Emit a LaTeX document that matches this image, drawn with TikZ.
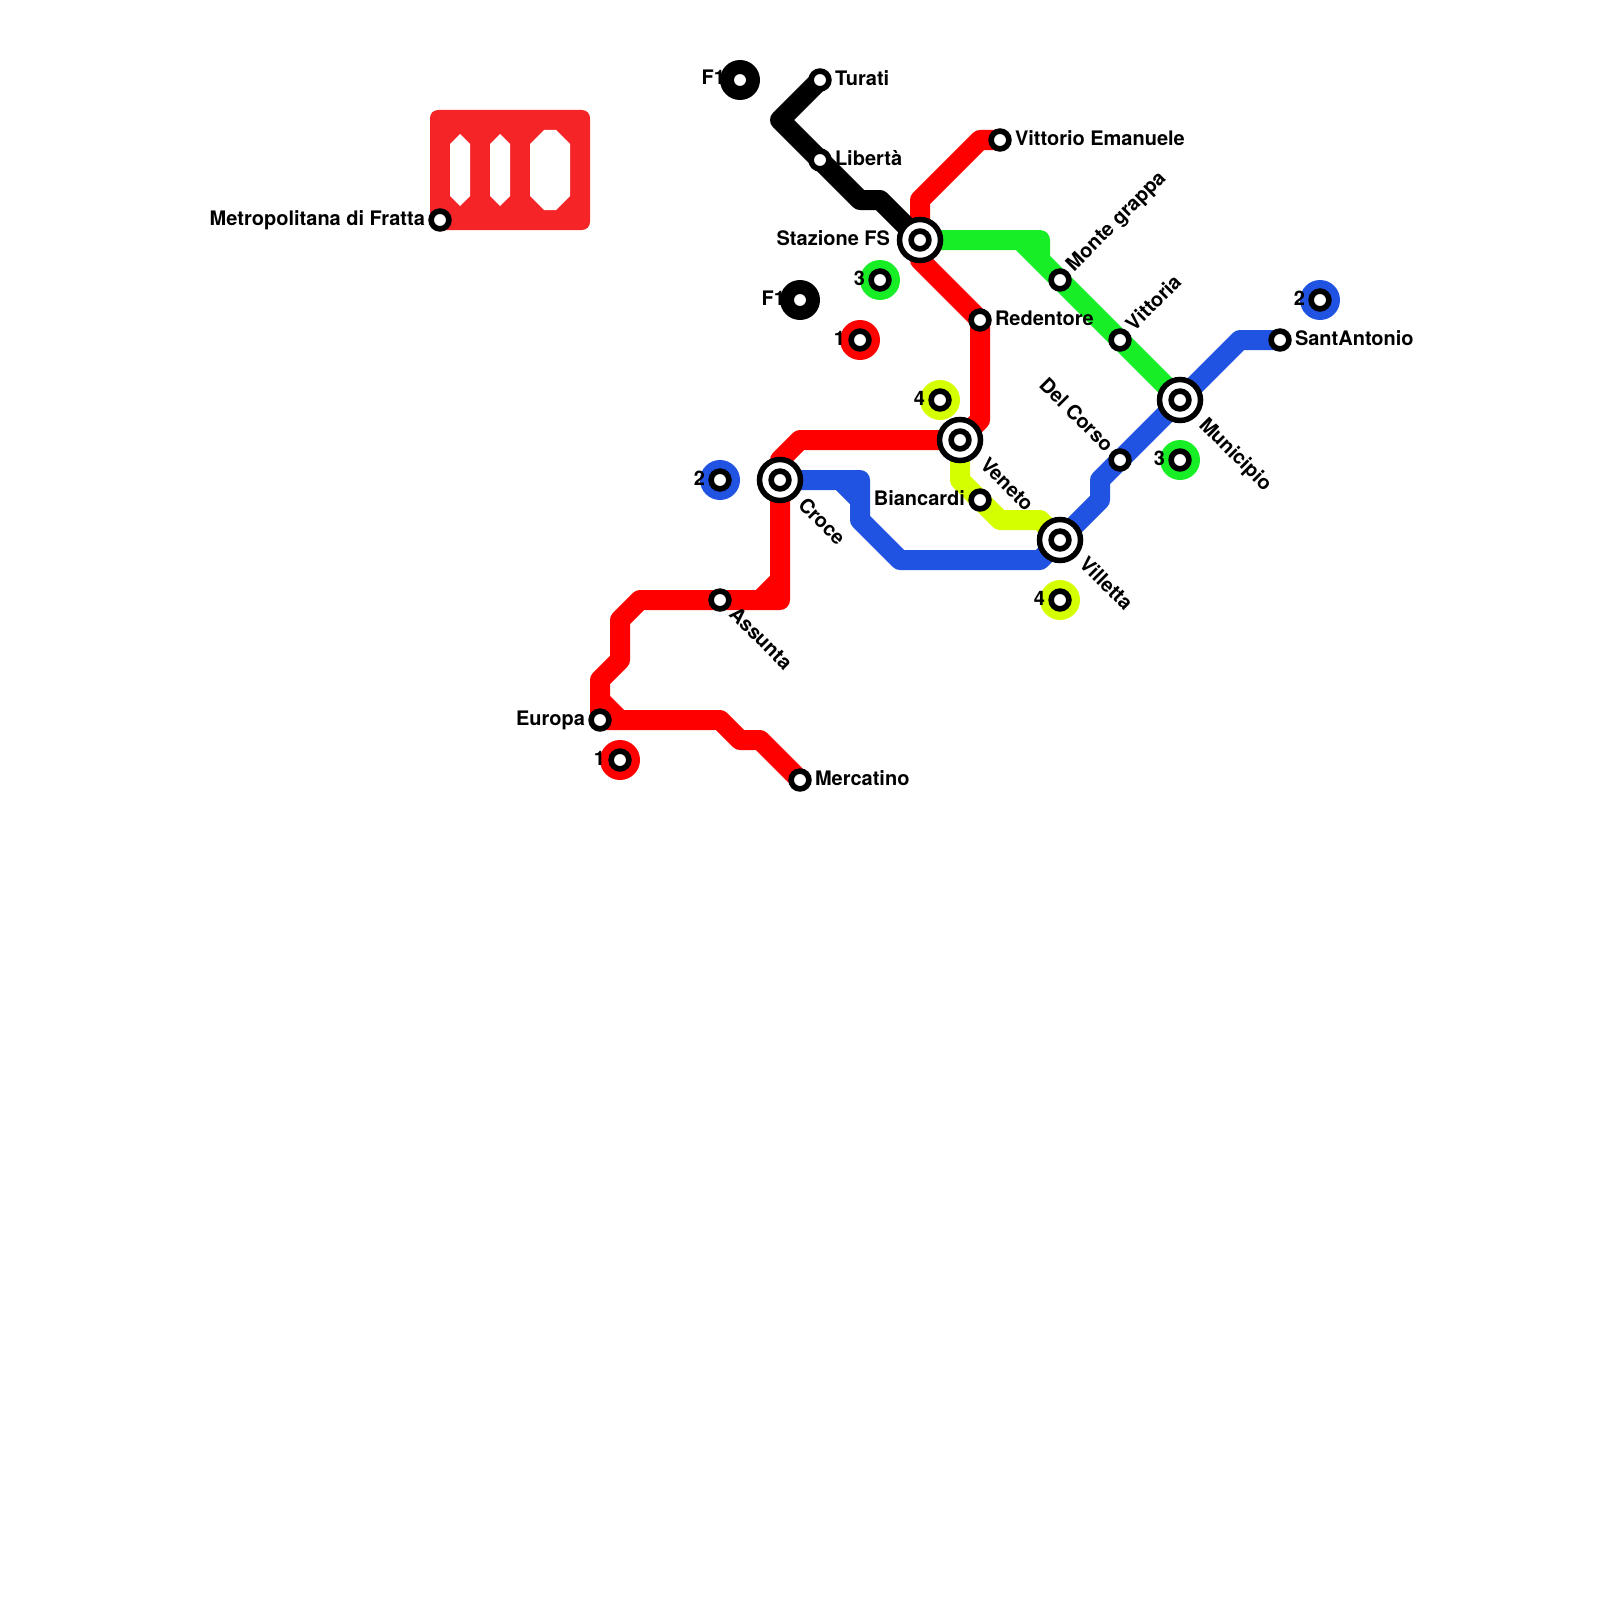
\documentclass[tikz,border=0pt]{standalone}
\usepackage{fontspec}
\setmainfont{TeX Gyre Heros}
\usetikzlibrary{calc,backgrounds}
\definecolor{LineRed}{HTML}{FF0000}
\definecolor{LineBlue}{HTML}{2153E3}
\definecolor{LineGreen}{HTML}{17EE26}
\definecolor{LineYellow}{HTML}{D4FF00}
\definecolor{IconRed}{HTML}{F52527}
\tikzset{
  metroline/.style={line width=10pt, line join=round, line cap=round},
  stopdot/.style={circle, draw=black, fill=white, line width=2.8pt, minimum size=8.9pt, inner sep=0pt, outer sep=0pt},
  stopring/.style={circle, draw=black, fill=white, line width=2.75pt, minimum size=20.5pt, inner sep=0pt, outer sep=0pt},
  keydisc/.style={circle, minimum size=20pt, inner sep=0pt, outer sep=0pt},
  stoplabel/.style={font=\fontsize{10}{12}\selectfont\bfseries, inner sep=0pt, outer sep=0pt, text=black},
  lblright/.style={stoplabel, anchor=base west, xshift=7.5pt, yshift=-2.75pt},
  lblleft/.style={stoplabel, anchor=base east, xshift=-7.5pt, yshift=-2.5pt},
  lbldown/.style={stoplabel, anchor=base west, rotate=-45},
  lblup/.style={stoplabel, anchor=base west, rotate=45}
}
\newcommand{\stopat}[2]{\node[stopdot] (#1) at (#2) {};}
\newcommand{\hubat}[2]{%
  \node[stopring] (#1Ring) at (#2) {};
  \node[stopdot] (#1) at (#2) {};}
\newcommand{\keyat}[4]{%
  \node[keydisc, fill=#3] (#1Disc) at (#2) {};
  \node[stopdot] (#1) at (#2) {};
  \node[lblleft] (#1Label) at (#1.center) {#4};}
\begin{document}
\begin{tikzpicture}[x=0.5pt, y=-0.5pt]
  \useasboundingbox (0,0) rectangle (1600,1600);

  \stopat{turati}{820,80}
  \stopat{liberta}{820,160}
  \stopat{vittorioEm}{1000,140}
  \stopat{redentore}{980,320}
  \stopat{montegrappa}{1060,280}
  \stopat{vittoria}{1120,340}
  \stopat{santantonio}{1280,340}
  \stopat{delcorso}{1120,460}
  \stopat{biancardi}{980,500}
  \stopat{assunta}{720,600}
  \stopat{europa}{600,720}
  \stopat{mercatino}{800,780}
  \stopat{fratta}{440,220}
  \hubat{stazione}{920,240}
  \hubat{municipio}{1180,400}
  \hubat{veneto}{960,440}
  \hubat{croce}{780,480}
  \hubat{villetta}{1060,540}

  \keyat{keyBlackA}{740,80}{black}{F1}
  \keyat{keyBlackB}{800,300}{black}{F1}
  \keyat{keyGreenA}{880,280}{LineGreen}{3}
  \keyat{keyGreenB}{1180,460}{LineGreen}{3}
  \keyat{keyRedA}{860,340}{LineRed}{1}
  \keyat{keyRedB}{620,760}{LineRed}{1}
  \keyat{keyYellowA}{940,400}{LineYellow}{4}
  \keyat{keyYellowB}{1060,600}{LineYellow}{4}
  \keyat{keyBlueA}{720,480}{LineBlue}{2}
  \keyat{keyBlueB}{1320,300}{LineBlue}{2}

  \begin{scope}[on background layer]
    \fill[IconRed, rounded corners=4pt] (430,110) rectangle (590,230);
    \fill[white] (450,144) -- (460,134) -- (470,144) -- (470,196) -- (460,206) -- (450,196) -- cycle;
    \fill[white] (490,144) -- (500,134) -- (510,144) -- (510,196) -- (500,206) -- (490,196) -- cycle;
    \fill[white] (530,144) -- (544,130) -- (556,130) -- (570,144) -- (570,196) -- (556,210) -- (544,210) -- (530,196) -- cycle;

    \draw[metroline, LineBlue] (croce.center) -- (860,480) -- (860,500) -- (840,480) -- (860,500) -- (860,520) -- (900,560) -- (1040,560) -- (villetta.center) -- (1100,500) -- (1100,480) -- (delcorso.center) -- (municipio.center) -- (1240,340) -- (santantonio.center);
    \draw[metroline, LineYellow] (veneto.center) -- (960,480) -- (1000,520) -- (1040,520) -- (villetta.center);
    \draw[metroline, LineGreen] (stazione.center) -- (1040,240) -- (1040,260) -- (1020,240) -- (1040,260) -- (montegrappa.center) -- (vittoria.center) -- (municipio.center);
    \draw[metroline, LineRed] (vittorioEm.center) -- (980,140) -- (920,200) -- (stazione.center) -- (920,260) -- (redentore.center) -- (980,420) -- (veneto.center) -- (800,440) -- (780,460) -- (croce.center) -- (780,600) -- (760,600) -- (780,580) -- (780,600) -- (assunta.center) -- (640,600) -- (620,620) -- (620,660) -- (600,680) -- (europa.center) -- (600,700) -- (620,720) -- (europa.center) -- (720,720) -- (740,740) -- (760,740) -- (mercatino.center);
    \draw[metroline, black] (turati.center) -- (780,120) -- (liberta.center) -- (860,200) -- (880,200) -- (stazione.center);
  \end{scope}

  \node[lblright] (turatiLabel) at (turati.center) {Turati};
  \node[lblright] (libertaLabel) at (liberta.center) {Libertà};
  \node[lblright] (vittorioEmLabel) at (vittorioEm.center) {Vittorio Emanuele};
  \node[lblright] (redentoreLabel) at (redentore.center) {Redentore};
  \node[lblright] (santantonioLabel) at (santantonio.center) {SantAntonio};
  \node[lblright] (mercatinoLabel) at (mercatino.center) {Mercatino};
  \node[lblleft] (frattaLabel) at (fratta.center) {Metropolitana di Fratta};
  \node[lblleft] (europaLabel) at (europa.center) {Europa};
  \node[lblleft] (biancardiLabel) at (biancardi.center) {Biancardi};
  \node[lblleft, xshift=-7.5pt] (stazioneLabel) at (stazione.center) {Stazione FS};
  \node[lblup] (montegrappaLabel) at ($(montegrappa)+(14,-8)$) {Monte grappa};
  \node[lblup] (vittoriaLabel) at ($(vittoria)+(14,-8)$) {Vittoria};
  \node[stoplabel, anchor=base east, rotate=-45] (delcorsoLabel) at ($(delcorso)+(-15,-7)$) {Del Corso};
  \node[lbldown] (municipioLabel) at ($(municipio)+(18,26)$) {Municipio};
  \node[lbldown] (croceLabel) at ($(croce)+(17,26)$) {Croce};
  \node[lbldown] (venetoLabel) at ($(veneto)+(19,26)$) {Veneto};
  \node[lbldown] (villettaLabel) at ($(villetta)+(18,25)$) {Villetta};
  \node[lbldown] (assuntaLabel) at ($(assunta)+(8,15)$) {Assunta};
\end{tikzpicture}
\end{document}
